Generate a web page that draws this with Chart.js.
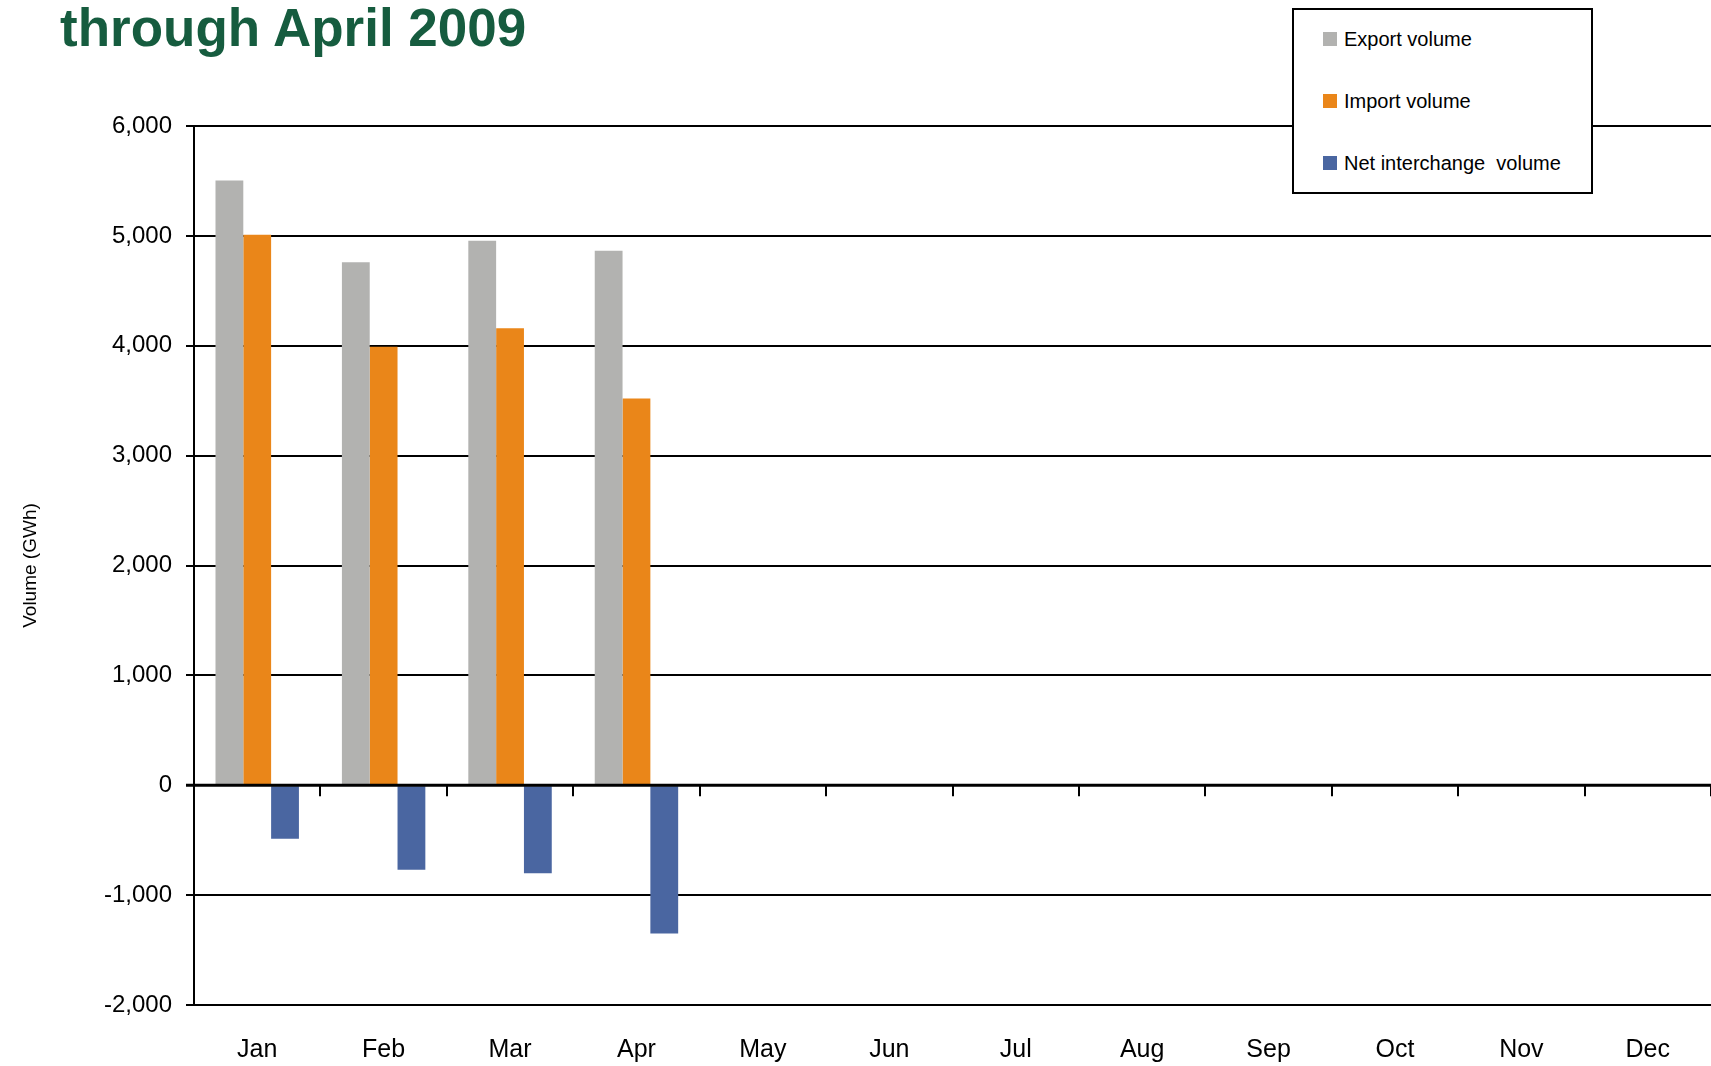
<!DOCTYPE html>
<html lang="en">
<head>
    <meta charset="UTF-8">
    <title>Export and import volume through April 2009</title>
    <script src="https://cdn.jsdelivr.net/npm/chart.js"></script>
    <style>
        body {
            margin: 0;
            background-color: #ffffff;
            overflow: hidden;
        }
        #wrap {
            position: relative;
            width: 1711px;
            height: 1066px;
            overflow: hidden;
        }
        #grafico {
            display: block;
        }
        #titulo {
            position: absolute;
            left: 60px;
            top: -3px;
            margin: 0;
            font-family: "Liberation Sans", Arial, sans-serif;
            font-weight: bold;
            font-size: 53px;
            color: #165c3f;
            white-space: nowrap;
        }
        #legenda {
            position: absolute;
            left: 1292px;
            top: 8px;
            width: 297px;
            height: 182px;
            border: 2px solid #000;
            background: #fff;
            font-family: "Liberation Sans", Arial, sans-serif;
            font-size: 20px;
            color: #000;
        }
        .item {
            position: absolute;
            left: 29px;
            height: 30px;
            display: flex;
            align-items: center;
            white-space: pre;
        }
        .item span.cor {
            display: inline-block;
            width: 14px;
            height: 14px;
            margin-right: 7px;
        }
    </style>
</head>
<body>

<div id="wrap">
    <canvas id="grafico" width="1711" height="1066"></canvas>
    <h1 id="titulo">through April 2009</h1>
    <div id="legenda"></div>
</div>

<script>
const meses = ['Jan', 'Feb', 'Mar', 'Apr', 'May', 'Jun', 'Jul', 'Aug', 'Sep', 'Oct', 'Nov', 'Dec'];
const exportVolume = [5505, 4760, 4955, 4865];
const importVolume = [5010, 3990, 4160, 3520];
const netInterchange = [-488, -768, -800, -1350];
const yTicks = [-2000, -1000, 0, 1000, 2000, 3000, 4000, 5000, 6000];

const fonte = '"Liberation Sans", Arial, sans-serif';

// linha do zero mais grossa e marcas de categoria penduradas nela
const marcasZero = {
    id: 'marcasZero',
    afterDatasetsDraw(chart) {
        const x = chart.scales.x;
        const y = chart.scales.y;
        const ctx = chart.ctx;
        const y0 = y.getPixelForValue(0);
        ctx.save();
        ctx.strokeStyle = '#000';
        ctx.lineWidth = 3;
        ctx.beginPath();
        ctx.moveTo(chart.chartArea.left - 8, y0);
        ctx.lineTo(chart.chartArea.right, y0);
        ctx.stroke();
        ctx.lineWidth = 2;
        for (let i = 0; i <= meses.length; i++) {
            const px = Math.round(x.getPixelForValue(i - 0.5));
            ctx.beginPath();
            ctx.moveTo(px, y0);
            ctx.lineTo(px, y0 + 11);
            ctx.stroke();
        }
        ctx.restore();
    }
};

const ctx = document.getElementById('grafico').getContext('2d');

const chart = new Chart(ctx, {
    type: 'bar',
    data: {
        labels: meses,
        datasets: [
            { label: 'Export volume', data: exportVolume, backgroundColor: '#b2b2b0' },
            { label: 'Import volume', data: importVolume, backgroundColor: '#ea8619' },
            { label: 'Net interchange  volume', data: netInterchange, backgroundColor: '#4a66a1' }
        ]
    },
    options: {
        responsive: false,
        animation: false,
        devicePixelRatio: 1,
        layout: {
            padding: { top: 126, right: 0, bottom: 0, left: 0 }
        },
        datasets: {
            bar: {
                categoryPercentage: 0.66,
                barPercentage: 1.0
            }
        },
        plugins: {
            legend: { display: false },
            title: { display: false },
            tooltip: { enabled: false }
        },
        scales: {
            x: {
                grid: { display: false, drawTicks: false },
                border: { display: false },
                afterFit(scale) {
                    scale.height = 61;
                },
                ticks: {
                    color: '#000',
                    padding: 30,
                    font: { family: fonte, size: 25 }
                }
            },
            y: {
                min: -2000,
                max: 6000,
                afterBuildTicks(scale) {
                    scale.ticks = yTicks.map(v => ({ value: v }));
                },
                afterFit(scale) {
                    scale.width = 194;
                },
                grid: {
                    color: '#000',
                    lineWidth: 2,
                    tickLength: 8
                },
                border: { display: true, color: '#000', width: 2 },
                ticks: {
                    color: '#000',
                    padding: 14,
                    font: { family: fonte, size: 24 },
                    callback: v => v.toLocaleString('en-US')
                },
                title: {
                    display: true,
                    text: 'Volume (GWh)',
                    color: '#000',
                    padding: { top: 19, bottom: 0 },
                    font: { family: fonte, size: 19 }
                }
            }
        }
    },
    plugins: [marcasZero]
});

// legenda em HTML, itens vindos do próprio gráfico
const legenda = document.getElementById('legenda');
const itens = chart.options.plugins.legend.labels.generateLabels(chart);
itens.forEach((item, i) => {
    const div = document.createElement('div');
    div.className = 'item';
    div.style.top = (14 + i * 62) + 'px';
    const cor = document.createElement('span');
    cor.className = 'cor';
    cor.style.background = item.fillStyle;
    div.appendChild(cor);
    div.appendChild(document.createTextNode(item.text));
    legenda.appendChild(div);
});
</script>

</body>
</html>
